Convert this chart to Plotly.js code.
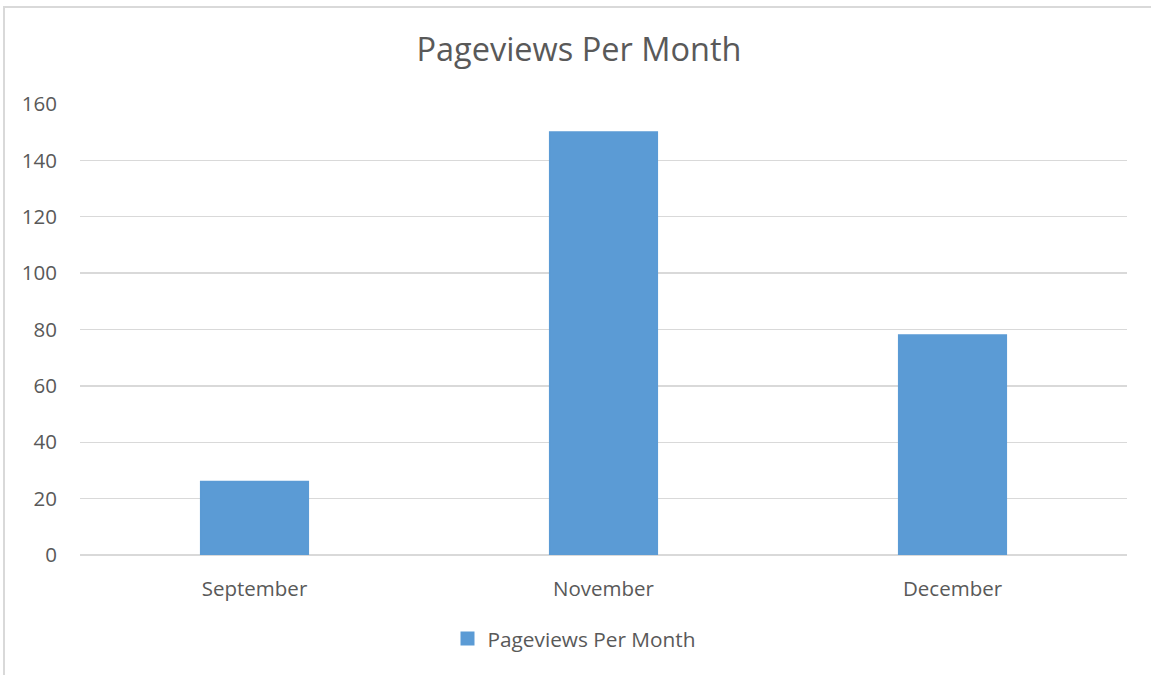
<!DOCTYPE html>
<html>
<head>
<meta charset="utf-8">
<script src="https://cdn.plot.ly/plotly-3.0.1.min.js"></script>
<style>
html,body{margin:0;padding:0;overflow:hidden;background:#fff;}
#chart{position:absolute;left:0;top:0;width:1151px;height:675px;}
#frame{position:absolute;left:3px;top:6px;width:1300px;height:800px;border-left:2px solid #d9d9d9;border-top:2px solid #d9d9d9;pointer-events:none;}
</style>
</head>
<body>
<div id="chart"></div>
<div id="frame"></div>
<script>
const categories = ["September", "November", "December"];
const pageviews = [26, 150, 78];
const seriesName = "Pageviews Per Month";
const chartTitle = "Pageviews Per Month";
const yTicks = [0, 20, 40, 60, 80, 100, 120, 140, 160];

const FONT = "'Open Sans', 'Noto Sans', sans-serif";
const trace = {
  type: "bar",
  x: categories,
  y: pageviews,
  name: seriesName,
  marker: {color: "#5B9BD5", line: {color: "#5B9BD5", width: 2}},
  showlegend: true
};

const layout = {
  width: 1151,
  height: 675,
  margin: {l: 80, r: 24, t: 104, b: 120},
  paper_bgcolor: "#ffffff",
  plot_bgcolor: "#ffffff",
  font: {family: FONT, color: "#595959", size: 21},
  title: {
    text: chartTitle,
    font: {family: FONT, size: 32.5, color: "#595959"},
    x: 0.503, xanchor: "center",
    y: 0.926, yanchor: "middle"
  },
  bargap: 0.693,
  xaxis: {
    type: "category",
    showgrid: false,
    showline: false,
    zeroline: false,
    ticks: "",
    ticklabelstandoff: 19,
    tickfont: {family: FONT, size: 20.5, color: "#595959"}
  },
  yaxis: {
    range: [0, 160],
    tickvals: yTicks,
    showgrid: true,
    gridcolor: "#d9d9d9",
    gridwidth: 1.3,
    zeroline: true,
    zerolinecolor: "#d9d9d9",
    zerolinewidth: 1.3,
    showline: false,
    ticks: "",
    ticklabelstandoff: 22,
    tickfont: {family: FONT, size: 20.5, color: "#595959"}
  },
  legend: {
    orientation: "h",
    x: 0.351, xanchor: "left",
    y: -0.186, yanchor: "middle",
    font: {family: FONT, size: 20.8, color: "#595959"},
    itemwidth: 30
  }
};

Plotly.newPlot("chart", [trace], layout, {displayModeBar: false, staticPlot: true});
</script>
</body>
</html>
